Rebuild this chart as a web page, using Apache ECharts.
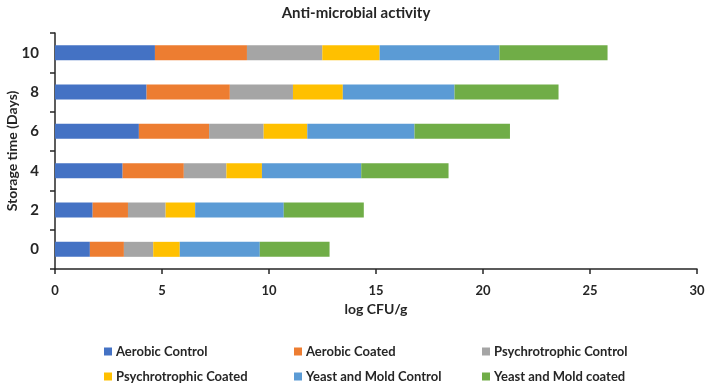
<!DOCTYPE html>
<html>
<head>
<meta charset="utf-8">
<script src="https://cdn.jsdelivr.net/npm/echarts@6/dist/echarts.min.js"></script>
<style>
  html, body { margin: 0; padding: 0; background: #fff; }
  #chart { width: 709px; height: 386px; }
</style>
</head>
<body>
<div id="chart"></div>
<script>
var days = ['0', '2', '4', '6', '8', '10'];

var aerobicControl = [1.63, 1.76, 3.16, 3.92, 4.28, 4.67];
var aerobicCoated = [1.59, 1.65, 2.86, 3.28, 3.89, 4.30];
var psychroControl = [1.37, 1.76, 1.99, 2.55, 2.95, 3.52];
var psychroCoated = [1.24, 1.38, 1.66, 2.04, 2.33, 2.68];
var yeastControl = [3.74, 4.14, 4.64, 5.01, 5.22, 5.60];
var yeastCoated = [3.26, 3.74, 4.08, 4.46, 4.86, 5.05];

var seriesNames = ['Aerobic Control', 'Aerobic Coated', 'Psychrotrophic Control',
  'Psychrotrophic Coated', 'Yeast and Mold Control', 'Yeast and Mold coated'];
var seriesData = [aerobicControl, aerobicCoated, psychroControl,
  psychroCoated, yeastControl, yeastCoated];
var colors = ['#4472C4', '#ED7D31', '#A5A5A5', '#FFC000', '#5B9BD5', '#70AD47'];

var chartDom = document.getElementById('chart');
var myChart = echarts.init(chartDom);
var option;

var font = 'Lato';
var ink = '#262626';

// one legend per column so the columns line up like the original
function legendColumn (left, names) {
  return {
    left: left,
    top: 345,
    orient: 'vertical',
    padding: 0,
    itemGap: 12,
    itemWidth: 8,
    itemHeight: 8,
    icon: 'rect',
    data: names,
    textStyle: { fontFamily: font, fontSize: 13, fontWeight: 'bold', color: ink, padding: [0, 0, 0, -1] }
  };
}

option = {
  color: colors,
  animation: false,
  title: {
    text: 'Anti-microbial activity',
    left: 351,
    textAlign: 'center',
    top: 1,
    textStyle: { fontFamily: font, fontSize: 15, fontWeight: 'bold', color: ink }
  },
  legend: [
    legendColumn(104, [seriesNames[0], seriesNames[3]]),
    legendColumn(294, [seriesNames[1], seriesNames[4]]),
    legendColumn(482, [seriesNames[2], seriesNames[5]])
  ],
  grid: { left: 55, right: 12, top: 33, bottom: 117, containLabel: false, outerBoundsMode: 'none' },
  xAxis: {
    type: 'value',
    min: 0,
    max: 30,
    interval: 5,
    name: 'log CFU/g',
    nameLocation: 'middle',
    nameGap: 33,
    nameMoveOverlap: false,
    nameTextStyle: { fontFamily: font, fontSize: 14, fontWeight: 'bold', color: ink },
    axisLine: { show: true, lineStyle: { color: ink, width: 1.5 } },
    axisTick: { show: true, length: 5, lineStyle: { color: ink, width: 1.5 } },
    axisLabel: { fontFamily: font, fontSize: 13, fontWeight: 'bold', color: ink, margin: 15 },
    splitLine: { show: false }
  },
  yAxis: {
    type: 'category',
    data: days,
    name: 'Storage time (Days)',
    nameLocation: 'middle',
    nameGap: 36,
    nameRotate: 90,
    nameMoveOverlap: false,
    nameTextStyle: { fontFamily: font, fontSize: 14, fontWeight: 'bold', color: ink },
    axisLine: { show: true, lineStyle: { color: ink, width: 1.5 } },
    axisTick: { show: true, length: 5, lineStyle: { color: ink, width: 1.5 } },
    axisLabel: { fontFamily: font, fontSize: 15, fontWeight: 'bold', color: ink, margin: 16 }
  },
  series: seriesNames.map(function (name, i) {
    return {
      name: name,
      type: 'bar',
      stack: 'total',
      barWidth: 15,
      data: seriesData[i]
    };
  })
};

option && myChart.setOption(option);
</script>
</body>
</html>
